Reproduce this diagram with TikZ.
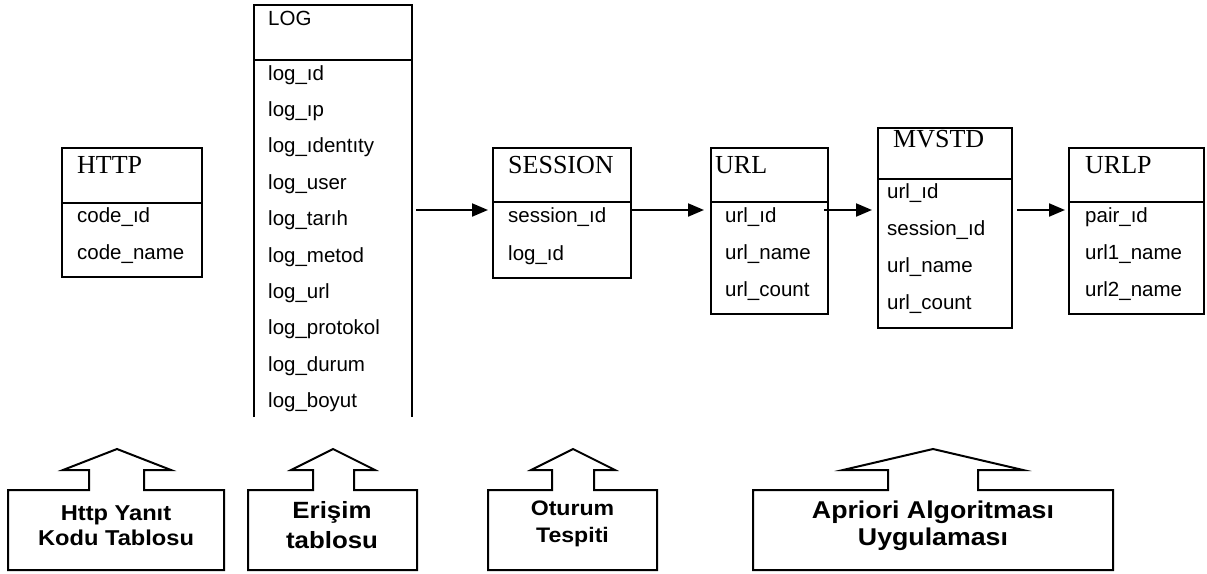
\documentclass[tikz,border=0pt]{standalone}
\usepackage{fontspec}
\setmainfont{Liberation Sans}
\newfontfamily\titlefont{Liberation Serif}
\newfontfamily\calloutfont[FakeStretch=1.1]{Liberation Sans}
\usetikzlibrary{arrows.meta}

\tikzset{
  tbl/.style={draw, line width=2pt, inner sep=0pt, outer sep=0pt, anchor=north west},
  frame/.style={draw=none, inner sep=0pt, outer sep=0pt, anchor=north west},
  rule/.style={line width=2pt},
  ttl/.style={anchor=base west, inner sep=0pt, font=\titlefont\fontsize{26}{30}\selectfont},
  ttlsans/.style={anchor=base west, inner sep=0pt, font=\fontsize{20.5}{24}\selectfont},
  fld/.style={anchor=base west, inner sep=0pt, font=\fontsize{20.5}{24}\selectfont},
  flow/.style={line width=2pt, -{Triangle[length=16pt,width=13pt]}},
  co/.style={line width=2pt, line join=miter},
  colabel/.style={align=center, inner sep=0pt, font=\calloutfont\bfseries},
}

\begin{document}
\begin{tikzpicture}[x=1pt, y=-1pt]
\useasboundingbox (0,0) rectangle (1207,573);
\coordinate (ay) at (0,210);

% ---- HTTP table
\node[tbl, minimum width=140pt, minimum height=129pt] (http) at (62,148) {};
\draw[rule] (http.west |- 0,203) -- (http.east |- 0,203);
\node[ttl] (http-t) at (77,173) {HTTP};
\node[fld] (http-1) at (77,222.5) {code\_ıd};
\node[fld] (http-2) at (77,259.5) {code\_name};

% ---- LOG table (open at the bottom)
\node[frame, minimum width=158pt, minimum height=412pt] (log) at (254,5) {};
\draw[rule] (log.south west) -- (log.north west) -- (log.north east) -- (log.south east);
\draw[rule] (log.west |- 0,60) -- (log.east |- 0,60);
\node[ttlsans] (log-t) at (268,25) {LOG};
\foreach \f [count=\i from 0] in {log\_ıd, log\_ıp, log\_ıdentıty, log\_user, log\_tarıh,
    log\_metod, log\_url, log\_protokol, log\_durum, log\_boyut}
  \node[fld] (log-\i) at (268,80+36.4*\i) {\f};

% ---- SESSION table
\node[tbl, minimum width=138pt, minimum height=130pt] (session) at (493,148) {};
\draw[rule] (session.west |- 0,202) -- (session.east |- 0,202);
\node[ttl] (session-t) at (508,173) {SESSION};
\node[fld] (session-1) at (508,222.5) {session\_ıd};
\node[fld] (session-2) at (508,260) {log\_ıd};

% ---- URL table
\node[tbl, minimum width=117pt, minimum height=166pt] (url) at (711,148) {};
\draw[rule] (url.west |- 0,202) -- (url.east |- 0,202);
\node[ttl] (url-t) at (715,173) {URL};
\node[fld] (url-1) at (725,222.5) {url\_ıd};
\node[fld] (url-2) at (725,259.5) {url\_name};
\node[fld] (url-3) at (725,296.5) {url\_count};

% ---- MVSTD table
\node[tbl, minimum width=134pt, minimum height=200pt] (mvstd) at (878,128) {};
\draw[rule] (mvstd.west |- 0,179) -- (mvstd.east |- 0,179);
\node[ttl] (mvstd-t) at (893,147) {MVSTD};
\node[fld] (mvstd-1) at (887,198.5) {url\_ıd};
\node[fld] (mvstd-2) at (887,235.5) {session\_ıd};
\node[fld] (mvstd-3) at (887,272.5) {url\_name};
\node[fld] (mvstd-4) at (887,309) {url\_count};

% ---- URLP table
\node[tbl, minimum width=135pt, minimum height=166pt] (urlp) at (1069,148) {};
\draw[rule] (urlp.west |- 0,202) -- (urlp.east |- 0,202);
\node[ttl] (urlp-t) at (1085,173) {URLP};
\node[fld] (urlp-1) at (1085,222.5) {pair\_ıd};
\node[fld] (urlp-2) at (1085,259.5) {url1\_name};
\node[fld] (urlp-3) at (1085,296) {url2\_name};

% ---- data flow between tables
\draw[flow, shorten <=4pt, shorten >=5pt] (log.east |- ay) -- (session.west |- ay);
\draw[flow, shorten >=7pt] (session.east |- ay) -- (url.west |- ay);
\draw[flow, shorten <=-4pt, shorten >=6pt] (url.east |- ay) -- (mvstd.west |- ay);
\draw[flow, shorten <=5pt, shorten >=4pt] (mvstd.east |- ay) -- (urlp.west |- ay);

% ---- process callouts with upward arrows
\node[frame, minimum width=216pt, minimum height=80pt] (c1) at (8,490) {};
\draw[co] (c1.north west) -- (89,490) -- (89,470) -- (63,470) -- (117,449) -- (171,470)
  -- (144,470) -- (144,490) -- (c1.north east) -- (c1.south east) -- (c1.south west) -- cycle;
\node[colabel, font=\calloutfont\bfseries\fontsize{21.5}{25}\selectfont] (c1-t) at (116,525.5)
  {Http Yanıt\\Kodu Tablosu};

\node[frame, minimum width=169pt, minimum height=80pt] (c2) at (248,490) {};
\draw[co] (c2.north west) -- (313,490) -- (313,470) -- (291,470) -- (333,449) -- (375,470)
  -- (354,470) -- (354,490) -- (c2.north east) -- (c2.south east) -- (c2.south west) -- cycle;
\node[colabel, font=\calloutfont\bfseries\fontsize{23.5}{30}\selectfont] (c2-t) at (332,525)
  {Erişim\\tablosu};

\node[frame, minimum width=169pt, minimum height=80pt] (c3) at (488,490) {};
\draw[co] (c3.north west) -- (552,490) -- (552,470) -- (531,470) -- (573,449) -- (615,470)
  -- (594,470) -- (594,490) -- (c3.north east) -- (c3.south east) -- (c3.south west) -- cycle;
\node[colabel, font=\calloutfont\bfseries\fontsize{21}{27}\selectfont] (c3-t) at (572.5,523.5)
  {Oturum\\Tespiti};

\node[frame, minimum width=360pt, minimum height=80pt] (c4) at (753,490) {};
\draw[co] (c4.north west) -- (888,490) -- (888,470) -- (843,470) -- (933,449) -- (1023,470)
  -- (978,470) -- (978,490) -- (c4.north east) -- (c4.south east) -- (c4.south west) -- cycle;
\node[colabel, font=\calloutfont\bfseries\fontsize{24.3}{27}\selectfont] (c4-t) at (933,526)
  {Apriori Algoritması\\Uygulaması};
\end{tikzpicture}
\end{document}
